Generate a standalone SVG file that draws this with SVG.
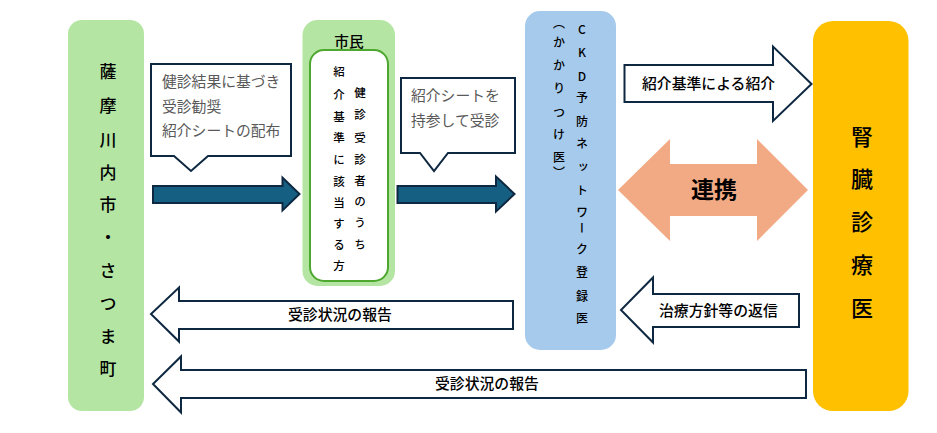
<svg xmlns="http://www.w3.org/2000/svg" width="937" height="433" viewBox="0 0 937 433">
<style>
text{font-family:"Noto Sans CJK JP","Noto Sans",sans-serif;fill:#000}
.v{writing-mode:vertical-rl;text-orientation:upright}
.out{fill:#fff;stroke:#0e2841;stroke-width:2}
.dark{fill:#156082;stroke:#0e2841;stroke-width:2}
.note{font-size:14.8px;fill:#595959}
.lab{font-size:14.85px;font-weight:500;text-anchor:start}
.s{font-size:12px;font-weight:500}
.i{font-size:11.5px;font-weight:500}
</style>
<rect width="937" height="433" fill="#fff"/>
<g id="satsuma">
<rect x="68" y="20" width="76" height="391" rx="14" fill="#b4e5a2"/>
<text class="v" x="108" y="63 97 131 164 196 229 262 295 328 360" font-size="17" font-weight="500">薩摩川内市・さつま町</text>
</g>
<g id="shimin">
<rect x="302.500" y="20" width="92.500" height="266" rx="15" fill="#b4e5a2"/>
<rect x="310" y="50" width="78" height="231" rx="14" fill="#fff" stroke="#4ea72e" stroke-width="2"/>
<text x="349" y="47" font-size="14.670" font-weight="500" text-anchor="middle">市民</text>
<text class="v i" x="360" y="87 109 132 154 175 196 217 239">健診受診者のうち</text>
<text class="v i" x="339" y="66 89 111 132 154 176 197 218 239 260">紹介基準に該当する方</text>
</g>
<g id="ckd">
<rect x="525" y="11" width="91" height="339" rx="15" fill="#a6caec"/>
<text class="v s" x="582" y="23 46 70 91 115 137 161 184 206 222 243 266 290 312">CKD予防ネットワーク登録医</text>
<text class="v s" x="559" y="17 36 59 82 106 128 151 166">（かかりつけ医）</text>
</g>
<g id="jinzo">
<rect x="813" y="21" width="95.500" height="390" rx="20" fill="#ffc000"/>
<text class="v" x="862" y="126 168 211 254 297" font-size="22" font-weight="500">腎臓診療医</text>
</g>
<g id="connectors">
<path class="dark" d="M153 186H282.500V177.500L299.500 194L282.500 210.500V203H153Z"/>
<path class="dark" d="M397.500 186H496V176.500L514.500 194L496 211.500V203H397.500Z"/>
<path class="out" d="M624.500 65H773V46.500L811.500 84L773 121V102H624.500Z"/>
<path fill="#f2aa84" d="M618 190L670 139V164H757V139L808 190L757 241V216H670V241Z"/>
<path class="out" d="M513 301H179V287.500L151 314L179 341.500V329H513Z"/>
<path class="out" d="M806 370H181V356.500L153 384L181 412.500V398H806Z"/>
<path class="out" d="M799 294H653V277.500L621 310L653 342.500V327H799Z"/>
<text class="lab" x="642" y="89">紹介基準による紹介</text>
<text x="714" y="198" font-size="23" font-weight="700" text-anchor="middle">連携</text>
<text class="lab" x="288" y="320">受診状況の報告</text>
<text class="lab" x="435" y="389">受診状況の報告</text>
<text class="lab" x="659" y="316">治療方針等の返信</text>
</g>
<g id="note1">
<path class="out" d="M151 64H291V156H208L191 171L174 156H151Z"/>
<text class="note" x="162" y="87">健診結果に基づき</text>
<text class="note" x="162" y="112">受診勧奨</text>
<text class="note" x="162" y="136">紹介シートの配布</text>
</g>
<g id="note2">
<path class="out" d="M401 78H515V153H448L434 171L420 153H401Z"/>
<text class="note" x="411" y="101">紹介シートを</text>
<text class="note" x="411" y="126">持参して受診</text>
</g>
</svg>
